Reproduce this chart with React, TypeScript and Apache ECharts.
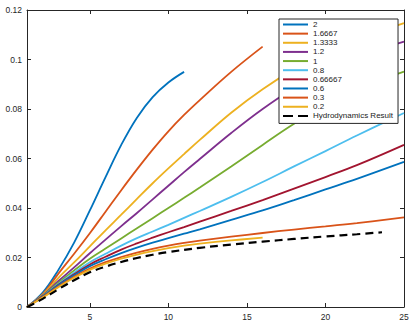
import React, { useEffect, useRef } from "react";
import * as echarts from "echarts";

const xGrid = [1, 2, 3, 4, 5, 6, 7, 8, 9, 10, 11, 12, 14, 16, 18, 20, 22, 25];
const seriesNames = ["2", "1.6667", "1.3333", "1.2", "1", "0.8", "0.66667", "0.6", "0.3", "0.2"];
const seriesColors = ["#0072BD", "#D95319", "#EDB120", "#7E2F8E", "#77AC30", "#4DBEEE", "#A2142F", "#0072BD", "#D95319", "#EDB120"];

const y_2 = [0, 0.0058, 0.015, 0.026, 0.039, 0.0525, 0.0655, 0.0765, 0.0848, 0.0907, 0.095];
const y_16667 = [0, 0.0052, 0.0135, 0.0215, 0.0298, 0.0385, 0.0472, 0.0556, 0.0636, 0.071, 0.0776, 0.0836, 0.095, 0.1052];
const y_13333 = [0, 0.005, 0.0118, 0.018, 0.0245, 0.031, 0.0373, 0.0437, 0.05, 0.056, 0.0618, 0.0675, 0.0785, 0.088, 0.096, 0.1025, 0.108, 0.1147];
const y_12 = [0, 0.0047, 0.0105, 0.016, 0.0217, 0.0272, 0.0327, 0.038, 0.0435, 0.049, 0.0545, 0.0598, 0.0703, 0.08, 0.0885, 0.0955, 0.101, 0.1072];
const y_1 = [0, 0.0045, 0.0098, 0.0148, 0.0195, 0.0236, 0.0277, 0.0318, 0.0359, 0.04, 0.0441, 0.0483, 0.0568, 0.0655, 0.074, 0.0815, 0.088, 0.0951];
const y_08 = [0, 0.0043, 0.0093, 0.0138, 0.0181, 0.0215, 0.0248, 0.0278, 0.0305, 0.0332, 0.036, 0.0388, 0.0445, 0.0505, 0.0568, 0.063, 0.0693, 0.0784];
const y_066667 = [0, 0.0042, 0.009, 0.0132, 0.0172, 0.0203, 0.0232, 0.0257, 0.028, 0.0302, 0.0323, 0.0345, 0.0388, 0.0432, 0.0478, 0.0525, 0.0573, 0.0655];
const y_06 = [0, 0.0042, 0.0088, 0.0128, 0.0165, 0.0193, 0.0218, 0.024, 0.026, 0.0278, 0.0296, 0.0314, 0.0352, 0.039, 0.0432, 0.0475, 0.0518, 0.0586];
const y_03 = [0, 0.004, 0.0083, 0.0122, 0.0155, 0.0181, 0.0202, 0.022, 0.0235, 0.0248, 0.0259, 0.0268, 0.0284, 0.0299, 0.0313, 0.0326, 0.0339, 0.0362];
const y_02 = [0, 0.0038, 0.008, 0.0118, 0.015, 0.0175, 0.0195, 0.0212, 0.0226, 0.0238, 0.0248, 0.0256, 0.0269, 0.028];

const hydroName = "Hydrodynamics Result";
const hydroX = [1, 2, 3, 4, 5, 6, 7, 8, 9, 10, 12, 14, 16, 18, 20, 22, 23.6];
const hydroY = [0, 0.0033, 0.0072, 0.0108, 0.014, 0.0163, 0.0182, 0.0198, 0.0211, 0.0222, 0.0239, 0.0252, 0.0264, 0.0275, 0.0285, 0.0294, 0.0302];

const xTicks = [5, 10, 15, 20, 25];
const allY = [y_2, y_16667, y_13333, y_12, y_1, y_08, y_066667, y_06, y_03, y_02];

const FONT = "'Liberation Sans', Arial, Helvetica, sans-serif";
const AX = "#262626";

export default function App() {
  const ref = useRef<HTMLDivElement>(null);
  useEffect(() => {
    const chart = echarts.init(ref.current!, null, { renderer: "svg" });
    const lineSeries: any[] = allY.map((ys, i) => ({
      name: seriesNames[i],
      type: "line",
      xAxisIndex: 0,
      yAxisIndex: 0,
      data: ys.map((v, j) => [xGrid[j], v]),
      showSymbol: false,
      symbol: "none",
      smooth: 0.4,
      lineStyle: { color: seriesColors[i], width: 1.8 },
      itemStyle: { color: seriesColors[i] },
      z: 2,
    }));
    lineSeries.push({
      name: hydroName,
      type: "line",
      xAxisIndex: 0,
      yAxisIndex: 0,
      data: hydroX.map((x, j) => [x, hydroY[j]]),
      showSymbol: false,
      symbol: "none",
      smooth: 0.4,
      lineStyle: { color: "#000", width: 2.2, type: [8, 5] },
      itemStyle: { color: "#000" },
      z: 3,
    });
    const legendData: any[] = seriesNames.map((n, i) => ({
      name: n,
      icon: "rect",
      itemStyle: { color: seriesColors[i], borderWidth: 0 },
    }));
    legendData.push({
      name: hydroName,
      icon: "path://M0,0h10v2h-10zM15,0h10v2h-10z",
      itemStyle: { color: "#000", borderWidth: 0 },
    });
    const axisLine = { show: true, onZero: false, lineStyle: { color: AX, width: 1 } };
    const tickStyle = { color: AX, width: 1 };
    chart.setOption({
      animation: false,
      grid: { left: 27, right: 11, top: 10, bottom: 16, containLabel: false, outerBoundsMode: "none" },
      legend: {
        orient: "vertical",
        left: 279,
        top: 19,
        itemWidth: 25,
        itemHeight: 2,
        itemGap: 1.14,
        padding: [1.5, 5, 3.5, 4],
        backgroundColor: "#fff",
        borderColor: AX,
        borderWidth: 1,
        borderRadius: 0,
        textStyle: { fontSize: 8, fontFamily: FONT, color: "#222", lineHeight: 8 },
        data: legendData,
      },
      xAxis: [
        {
          type: "value",
          min: 1,
          max: 25,
          position: "bottom",
          axisLine,
          axisTick: { show: true, inside: true, length: 4, customValues: xTicks, lineStyle: tickStyle },
          axisLabel: { customValues: xTicks, margin: 5, fontSize: 8.5, color: AX, fontFamily: FONT },
          splitLine: { show: false },
        },
        {
          type: "value",
          min: 1,
          max: 25,
          position: "top",
          axisLine,
          axisTick: { show: true, inside: true, length: 4, customValues: xTicks, lineStyle: tickStyle },
          axisLabel: { show: false },
          splitLine: { show: false },
        },
      ],
      yAxis: [
        {
          type: "value",
          min: 0,
          max: 0.12,
          interval: 0.02,
          position: "left",
          axisLine,
          axisTick: { show: true, inside: true, length: 4, lineStyle: tickStyle },
          axisLabel: { margin: 5, fontSize: 8.5, color: AX, fontFamily: FONT },
          splitLine: { show: false },
        },
        {
          type: "value",
          min: 0,
          max: 0.12,
          interval: 0.02,
          position: "right",
          axisLine,
          axisTick: { show: true, inside: true, length: 4, lineStyle: tickStyle },
          axisLabel: { show: false },
          splitLine: { show: false },
        },
      ],
      series: lineSeries,
    });
    return () => chart.dispose();
  }, []);
  return <div ref={ref} style={{ position: "absolute", left: 0, top: 0, width: 415, height: 323, background: "#fff" }} />;
}
